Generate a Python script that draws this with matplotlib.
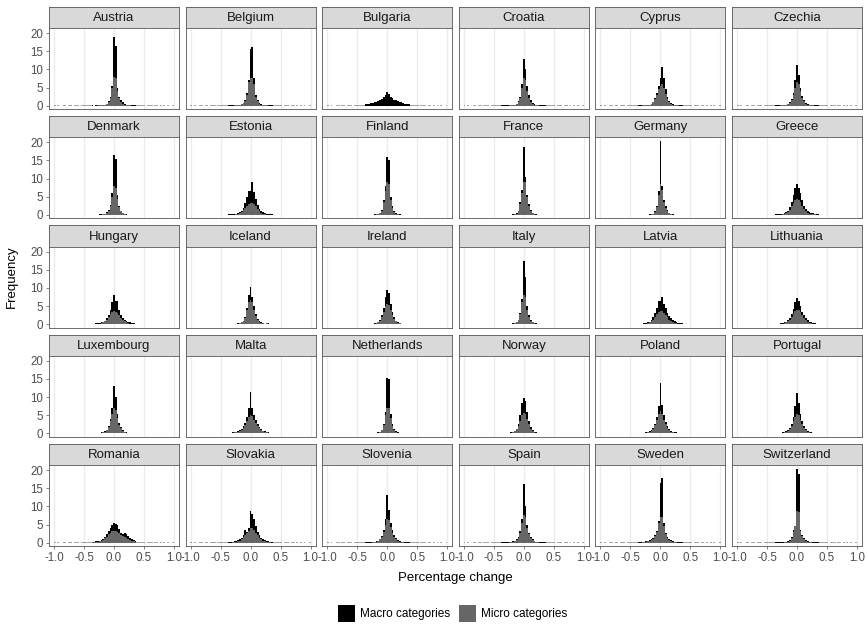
import numpy as np
import matplotlib
matplotlib.use("Agg")
import matplotlib.pyplot as plt
from matplotlib.patches import Rectangle

plt.rcParams['font.family'] = ['Liberation Sans', 'DejaVu Sans']
plt.rcParams['axes.unicode_minus'] = False

# bins of 0.03 centred on -0.36 ... 0.36 (25 values per series)
AUSTRIA_MACRO = [0.1,0.0,0.1,0.1,0.1,0.2,0.2,0.3,0.5,1.2,2.5,5.5,19.0,16.5,5.0,2.5,1.5,1.0,0.5,0.3,0.2,0.1,0.1,0.1,0.1]
AUSTRIA_MICRO = [0,0,0,0.1,0.1,0.1,0.2,0.3,0.5,1.0,2.2,5.0,8.0,7.5,4.0,2.0,1.0,0.6,0.3,0.2,0.1,0.1,0,0,0]
BELGIUM_MACRO = [0.1,0.1,0.1,0.1,0.2,0.2,0.3,0.5,0.8,1.5,3.5,7.0,15.5,16.3,7.5,3.0,1.5,0.8,0.5,0.3,0.2,0.1,0.1,0.1,0.1]
BELGIUM_MICRO = [0,0,0,0.1,0.1,0.2,0.2,0.4,0.7,1.3,3.0,6.5,7.5,7.5,6.0,2.5,1.2,0.6,0.3,0.2,0.1,0.1,0,0,0]
BULGARIA_MACRO = [0.5,0.5,0.6,0.7,0.8,1.0,1.1,1.2,1.6,1.9,2.3,2.9,3.7,3.1,2.5,2.1,1.7,1.5,1.3,1.1,0.9,0.7,0.6,0.5,0.5]
BULGARIA_MICRO = [0,0,0,0,0,0,0,0,0,0,0,0,0,0,0,0,0,0,0,0,0,0,0,0,0]
CROATIA_MACRO = [0.1,0.1,0.1,0.1,0.1,0.2,0.2,0.3,0.6,1.2,2.5,6.0,13.0,10.0,5.5,3.0,1.5,0.8,0.5,0.3,0.2,0.1,0.1,0.1,0.1]
CROATIA_MICRO = [0,0,0,0,0.1,0.1,0.2,0.3,0.5,1.0,2.2,5.0,7.5,7.0,4.0,2.0,1.0,0.5,0.3,0.2,0.1,0,0,0,0]
CYPRUS_MACRO = [0.1,0.1,0.1,0.2,0.2,0.2,0.3,0.5,1.0,2.0,3.5,5.5,7.5,10.8,7.5,4.5,2.5,1.3,0.7,0.5,0.3,0.3,0.2,0.1,0.1]
CYPRUS_MICRO = [0,0,0.1,0.1,0.1,0.2,0.3,0.5,1.0,1.8,3.0,4.5,5.5,6.0,5.0,3.2,1.8,1.0,0.5,0.3,0.2,0.1,0.1,0,0]
CZECHIA_MACRO = [0.1,0.1,0.1,0.1,0.2,0.2,0.3,0.5,0.9,1.8,3.5,7.0,11.2,8.5,5.0,2.8,1.5,0.8,0.5,0.3,0.2,0.1,0.1,0.1,0.1]
CZECHIA_MICRO = [0,0,0,0.1,0.1,0.1,0.2,0.4,0.8,1.5,3.0,5.0,6.5,6.0,4.0,2.2,1.2,0.6,0.3,0.2,0.1,0.1,0,0,0]
DENMARK_MACRO = [0.1,0.1,0.1,0.1,0.2,0.2,0.3,0.4,0.7,1.3,2.8,6.0,16.5,15.5,5.5,2.5,1.2,0.6,0.3,0.2,0.1,0.1,0.1,0.1,0.1]
DENMARK_MICRO = [0,0,0,0,0.1,0.1,0.2,0.3,0.6,1.2,2.5,5.0,8.0,7.5,4.5,2.2,1.0,0.5,0.2,0.1,0.1,0,0,0,0]
ESTONIA_MACRO = [0.3,0.2,0.3,0.3,0.4,0.5,0.8,1.2,2.0,3.2,5.0,6.5,6.5,9.2,6.3,4.5,2.7,1.7,1.0,0.7,0.5,0.4,0.3,0.2,0.2]
ESTONIA_MICRO = [0,0,0.1,0.1,0.2,0.3,0.5,0.9,1.4,2.0,2.5,3.0,3.3,3.3,3.0,2.4,1.6,1.0,0.6,0.4,0.2,0.1,0.1,0,0]
FINLAND_MACRO = [0.1,0.1,0.1,0.1,0.1,0.2,0.2,0.3,0.6,1.5,4.0,8.0,16.0,15.0,5.0,2.5,1.2,0.5,0.3,0.2,0.1,0.1,0.1,0.1,0.1]
FINLAND_MICRO = [0,0,0,0,0.1,0.1,0.2,0.3,0.5,1.2,3.5,6.5,9.0,8.5,4.0,2.0,0.8,0.4,0.2,0.1,0,0,0,0,0]
FRANCE_MACRO = [0.1,0.1,0.1,0.1,0.1,0.1,0.2,0.3,0.5,1.2,3.5,7.0,18.8,10.5,5.5,3.0,1.3,0.6,0.3,0.2,0.1,0.1,0.1,0.1,0.1]
FRANCE_MICRO = [0,0,0,0,0,0.1,0.1,0.2,0.4,1.0,3.0,6.0,9.0,9.0,5.0,2.5,1.0,0.5,0.3,0.1,0.1,0,0,0,0]
GERMANY_MACRO = [0.1,0.1,0.1,0.1,0.1,0.1,0.2,0.2,0.4,1.0,2.5,6.5,20.3,8.0,4.0,2.5,1.3,0.6,0.3,0.2,0.1,0.1,0.1,0.1,0.1]
GERMANY_MICRO = [0,0,0,0,0,0.1,0.1,0.2,0.3,0.8,2.2,5.5,8.5,7.0,3.5,2.0,1.0,0.5,0.2,0.1,0.1,0,0,0,0]
GREECE_MACRO = [0.2,0.2,0.3,0.3,0.4,0.5,0.8,1.2,2.2,3.6,5.5,7.5,8.6,7.5,6.0,4.0,2.6,1.7,1.0,0.7,0.5,0.6,0.4,0.3,0.2]
GREECE_MICRO = [0,0,0.1,0.1,0.2,0.3,0.5,0.8,1.5,2.5,3.2,4.0,4.5,4.2,3.5,2.5,1.6,1.0,0.6,0.4,0.3,0.3,0.2,0.1,0]
HUNGARY_MACRO = [0.2,0.2,0.3,0.3,0.4,0.5,0.7,1.0,1.6,2.6,4.0,6.0,8.0,6.5,6.3,4.0,2.6,1.8,1.2,0.9,0.7,0.5,0.4,0.3,0.2]
HUNGARY_MICRO = [0,0,0.1,0.1,0.2,0.3,0.5,0.8,1.3,2.0,2.8,3.4,3.6,3.5,3.2,2.5,1.8,1.2,0.8,0.5,0.3,0.2,0.1,0.1,0]
ICELAND_MACRO = [0.1,0.1,0.1,0.1,0.2,0.3,0.4,0.6,1.0,2.0,4.5,8.0,10.2,7.5,5.0,2.8,1.5,0.9,0.5,0.3,0.2,0.4,0.3,0.2,0.1]
ICELAND_MICRO = [0,0,0,0.1,0.1,0.2,0.3,0.5,0.9,1.8,3.8,6.0,6.8,6.0,4.0,2.3,1.2,0.7,0.4,0.3,0.1,0.3,0.1,0,0]
IRELAND_MACRO = [0.1,0.1,0.1,0.1,0.2,0.3,0.4,0.7,1.2,2.5,4.5,7.5,9.4,8.5,5.5,3.5,2.0,1.0,0.6,0.4,0.2,0.1,0.1,0.1,0.1]
IRELAND_MICRO = [0,0,0,0.1,0.1,0.2,0.3,0.6,1.0,2.0,3.5,5.0,5.6,5.2,4.0,2.5,1.4,0.8,0.4,0.3,0.1,0.1,0,0,0]
ITALY_MACRO = [0.1,0.1,0.1,0.1,0.1,0.2,0.3,0.4,0.7,1.3,3.0,7.0,17.5,13.0,5.0,2.5,1.3,0.7,0.4,0.3,0.2,0.1,0.1,0.1,0.1]
ITALY_MICRO = [0,0,0,0,0.1,0.1,0.2,0.3,0.6,1.2,2.8,6.0,8.0,7.5,4.0,2.0,1.0,0.5,0.3,0.1,0.1,0,0,0,0]
LATVIA_MACRO = [0.2,0.2,0.2,0.3,0.4,0.5,0.7,1.1,1.9,3.0,4.5,6.5,6.5,7.5,5.5,4.5,3.2,2.3,1.6,1.1,0.8,0.6,0.4,0.3,0.3]
LATVIA_MICRO = [0,0,0.1,0.1,0.2,0.3,0.5,0.8,1.3,2.0,2.8,3.4,3.6,3.6,3.2,2.6,1.9,1.3,0.9,0.6,0.4,0.3,0.2,0.1,0.1]
LITHUANIA_MACRO = [0.1,0.1,0.2,0.3,0.4,0.5,0.7,1.1,1.8,2.8,4.3,6.0,7.3,6.5,5.0,3.5,2.5,1.7,1.1,0.7,0.5,0.4,0.3,0.2,0.2]
LITHUANIA_MICRO = [0,0,0.1,0.1,0.2,0.3,0.5,0.8,1.3,2.0,2.9,3.6,4.0,3.9,3.3,2.5,1.7,1.1,0.7,0.4,0.3,0.2,0.1,0,0]
LUXEMBOURG_MACRO = [0.1,0.1,0.1,0.1,0.2,0.3,0.4,0.6,1.0,2.0,4.0,7.0,13.2,10.0,5.5,3.0,1.8,1.0,0.5,0.3,0.2,0.1,0.1,0.1,0.1]
LUXEMBOURG_MICRO = [0,0,0,0.1,0.1,0.1,0.3,0.5,0.9,1.8,3.3,5.5,7.0,6.5,4.2,2.4,1.4,0.8,0.4,0.2,0.1,0.1,0,0,0]
MALTA_MACRO = [0.1,0.2,0.3,0.4,0.5,0.7,0.9,1.3,2.0,3.0,4.5,7.0,11.3,7.0,5.0,3.6,2.6,1.8,1.2,0.8,0.6,0.4,0.3,0.2,0.1]
MALTA_MICRO = [0,0.1,0.2,0.3,0.4,0.5,0.7,1.0,1.5,2.3,3.3,4.5,5.2,4.8,3.8,2.8,2.0,1.4,0.9,0.6,0.4,0.3,0.2,0.1,0]
NETHERLANDS_MACRO = [0.1,0.1,0.1,0.1,0.1,0.1,0.2,0.3,0.5,1.0,2.5,6.0,15.2,15.0,5.5,2.5,1.2,0.6,0.3,0.2,0.1,0.1,0.1,0.1,0.1]
NETHERLANDS_MICRO = [0,0,0,0,0,0.1,0.1,0.2,0.4,0.9,2.2,5.0,7.0,7.0,4.2,2.0,0.9,0.4,0.2,0.1,0,0,0,0,0]
NORWAY_MACRO = [0.1,0.1,0.1,0.1,0.2,0.3,0.4,0.7,1.3,2.5,5.0,8.5,9.9,9.0,6.0,3.5,1.8,1.0,0.5,0.3,0.2,0.1,0.1,0.1,0.1]
NORWAY_MICRO = [0,0,0,0.1,0.1,0.2,0.3,0.6,1.1,2.0,3.5,5.0,5.6,5.3,4.0,2.5,1.3,0.7,0.4,0.2,0.1,0.1,0,0,0]
POLAND_MACRO = [0.1,0.1,0.1,0.2,0.3,0.4,0.6,0.9,1.5,2.6,4.5,7.5,13.8,7.8,5.0,3.2,2.0,1.2,0.8,0.5,0.4,0.3,0.2,0.1,0.1]
POLAND_MICRO = [0,0,0.1,0.1,0.2,0.3,0.5,0.8,1.3,2.3,3.8,5.5,6.3,5.5,3.8,2.5,1.5,0.9,0.5,0.3,0.2,0.1,0.1,0,0]
PORTUGAL_MACRO = [0.1,0.1,0.1,0.2,0.3,0.4,0.6,0.9,1.5,2.5,4.5,7.5,11.1,8.5,5.5,3.5,2.0,1.2,0.7,0.4,0.3,0.2,0.1,0.1,0.1]
PORTUGAL_MICRO = [0,0,0.1,0.1,0.2,0.3,0.5,0.8,1.2,2.0,3.3,4.6,5.3,5.0,3.8,2.5,1.5,0.9,0.5,0.3,0.2,0.1,0,0,0]
ROMANIA_MACRO = [0.3,0.3,0.4,0.5,0.6,0.8,1.1,1.6,2.3,3.1,4.1,5.0,5.3,5.2,4.8,3.8,2.7,2.4,2.8,2.4,1.8,1.3,1.0,0.7,0.5]
ROMANIA_MICRO = [0.1,0.2,0.3,0.3,0.4,0.6,0.8,1.2,1.7,2.3,2.8,3.1,3.2,3.2,3.0,2.6,2.1,1.8,1.6,1.3,1.0,0.7,0.5,0.4,0.3]
SLOVAKIA_MACRO = [0.2,0.2,0.3,0.4,0.5,0.7,1.0,1.4,2.2,3.5,3.0,4.0,8.7,8.0,6.5,4.5,3.0,2.1,1.4,1.0,0.7,0.5,0.4,0.3,0.2]
SLOVAKIA_MICRO = [0,0,0.1,0.1,0.3,0.4,0.6,1.0,1.5,2.2,2.7,3.2,4.0,4.0,3.5,2.7,2.0,1.4,0.9,0.6,0.4,0.3,0.2,0.1,0]
SLOVENIA_MACRO = [0.1,0.1,0.1,0.1,0.2,0.3,0.4,0.6,1.0,1.8,3.5,6.5,13.2,9.0,5.5,3.5,2.0,1.2,0.7,0.4,0.3,0.2,0.1,0.1,0.1]
SLOVENIA_MICRO = [0,0,0,0,0.1,0.1,0.3,0.5,0.9,1.6,3.0,5.0,6.5,6.2,4.2,2.6,1.5,0.9,0.5,0.3,0.2,0.1,0,0,0]
SPAIN_MACRO = [0.1,0.1,0.1,0.1,0.2,0.3,0.4,0.5,0.9,1.6,3.2,6.5,16.1,10.0,5.0,2.8,1.6,0.9,0.5,0.3,0.2,0.1,0.1,0.1,0.1]
SPAIN_MICRO = [0,0,0,0,0.1,0.1,0.3,0.4,0.8,1.4,2.8,5.5,7.5,7.0,4.0,2.3,1.3,0.7,0.4,0.2,0.1,0,0,0,0]
SWEDEN_MACRO = [0.1,0.1,0.2,0.3,0.4,0.5,0.7,0.9,1.3,2.0,3.2,6.0,16.5,17.8,5.5,2.8,1.5,1.0,0.7,0.5,0.3,0.2,0.1,0.1,0.1]
SWEDEN_MICRO = [0,0,0.1,0.1,0.3,0.4,0.6,0.8,1.1,1.8,3.0,5.5,7.2,7.2,4.5,2.4,1.3,0.8,0.5,0.3,0.2,0.1,0,0,0]
SWITZERLAND_MACRO = [0.1,0.1,0.1,0.1,0.1,0.2,0.3,0.5,0.8,1.5,3.5,4.5,20.2,19.0,3.5,2.0,1.2,0.7,0.4,0.3,0.2,0.1,0.1,0.1,0.1]
SWITZERLAND_MICRO = [0,0,0,0,0,0.1,0.1,0.3,0.6,1.2,3.0,4.5,8.8,8.5,3.2,1.8,1.0,0.6,0.3,0.2,0.1,0,0,0,0]

# sparse outer tails (bins beyond +-0.375), shared, barely visible
TAIL_LEFT = [0.1,0,0.1,0,0,0.1,0.1,0,0.1,0.1,0,0.1,0.1,0.1,0,0.1,0.1,0.1,0.1,0.1,0.1]
TAIL_RIGHT = [0.1,0.1,0.1,0.1,0.1,0,0.1,0.1,0.1,0,0.1,0.1,0,0.1,0,0.1,0,0.1,0,0,0.1]

COUNTRIES = ["Austria", "Belgium", "Bulgaria", "Croatia", "Cyprus", "Czechia",
             "Denmark", "Estonia", "Finland", "France", "Germany", "Greece",
             "Hungary", "Iceland", "Ireland", "Italy", "Latvia", "Lithuania",
             "Luxembourg", "Malta", "Netherlands", "Norway", "Poland", "Portugal",
             "Romania", "Slovakia", "Slovenia", "Spain", "Sweden", "Switzerland"]
MACRO = [AUSTRIA_MACRO, BELGIUM_MACRO, BULGARIA_MACRO, CROATIA_MACRO, CYPRUS_MACRO, CZECHIA_MACRO,
         DENMARK_MACRO, ESTONIA_MACRO, FINLAND_MACRO, FRANCE_MACRO, GERMANY_MACRO, GREECE_MACRO,
         HUNGARY_MACRO, ICELAND_MACRO, IRELAND_MACRO, ITALY_MACRO, LATVIA_MACRO, LITHUANIA_MACRO,
         LUXEMBOURG_MACRO, MALTA_MACRO, NETHERLANDS_MACRO, NORWAY_MACRO, POLAND_MACRO, PORTUGAL_MACRO,
         ROMANIA_MACRO, SLOVAKIA_MACRO, SLOVENIA_MACRO, SPAIN_MACRO, SWEDEN_MACRO, SWITZERLAND_MACRO]
MICRO = [AUSTRIA_MICRO, BELGIUM_MICRO, BULGARIA_MICRO, CROATIA_MICRO, CYPRUS_MICRO, CZECHIA_MICRO,
         DENMARK_MICRO, ESTONIA_MICRO, FINLAND_MICRO, FRANCE_MICRO, GERMANY_MICRO, GREECE_MICRO,
         HUNGARY_MICRO, ICELAND_MICRO, IRELAND_MICRO, ITALY_MICRO, LATVIA_MICRO, LITHUANIA_MICRO,
         LUXEMBOURG_MICRO, MALTA_MICRO, NETHERLANDS_MICRO, NORWAY_MICRO, POLAND_MICRO, PORTUGAL_MICRO,
         ROMANIA_MICRO, SLOVAKIA_MICRO, SLOVENIA_MICRO, SPAIN_MICRO, SWEDEN_MICRO, SWITZERLAND_MICRO]

X_TICKS = [-1.0, -0.5, 0.0, 0.5, 1.0]
X_TICKLABELS = ["-1.0", "-0.5", "0.0", "0.5", "1.0"]
Y_TICKS = [0, 5, 10, 15, 20]

MACRO_COL = "black"
MICRO_COL = "#666666"
BORDER = "#555555"

W, H = 868, 626
fig = plt.figure(figsize=(W / 100, H / 100), dpi=100)


def px_axes(left, top, w, h):
    return fig.add_axes([left / W, 1 - (top + h) / H, w / W, h / H])


edges = np.linspace(-1.005, 1.005, 68)
left_edges = edges[:22]
right_edges = edges[-22:]
mid_edges = edges[21:47]

col_left, col_pitch, panel_w = 49, 136.6, 130
row_top, row_pitch, strip_h, panel_h = 7, 109.25, 21, 81

for k, name in enumerate(COUNTRIES):
    r, c = divmod(k, 6)
    left = col_left + c * col_pitch
    top = row_top + r * row_pitch

    # strip
    sax = px_axes(left, top, panel_w, strip_h)
    sax.set_facecolor("#D9D9D9")
    sax.set_xticks([])
    sax.set_yticks([])
    for s in sax.spines.values():
        s.set_color(BORDER)
        s.set_linewidth(0.6)
    sax.text(0.5, 0.47, name, ha="center", va="center", fontsize=9.5,
             color="#1A1A1A", transform=sax.transAxes)

    # panel
    ax = px_axes(left, top + strip_h, panel_w, panel_h)
    ax.set_xlim(-1.085, 1.085)
    ax.set_ylim(-0.9, 21.4)
    for xv in X_TICKS:
        ax.axvline(xv, color="#EBEBEB", lw=0.9, zorder=0)
    # faint outlying tails
    ax.stairs(TAIL_LEFT, left_edges, fill=True, color=MACRO_COL, alpha=0.35, lw=0, zorder=2)
    ax.stairs(TAIL_RIGHT, right_edges, fill=True, color=MACRO_COL, alpha=0.35, lw=0, zorder=2)
    ax.stairs(MACRO[k], mid_edges, fill=True, color=MACRO_COL, lw=0, zorder=2)
    ax.stairs(MICRO[k], mid_edges, fill=True, color=MICRO_COL, lw=0, zorder=3)
    for s in ax.spines.values():
        s.set_color(BORDER)
        s.set_linewidth(0.6)
    ax.set_xticks(X_TICKS)
    ax.set_yticks(Y_TICKS)
    ax.tick_params(length=2.5, width=0.5, color=BORDER, labelsize=8.3,
                   labelcolor="#4D4D4D", pad=1.5)
    if r == 4:
        ax.set_xticklabels(X_TICKLABELS)
    else:
        ax.tick_params(axis="x", length=0, labelbottom=False)
    if c != 0:
        ax.tick_params(axis="y", length=0, labelleft=False)

fig.text(12 / W, 1 - 277 / H, "Frequency", rotation=90, ha="center", va="center",
         fontsize=9.5, color="black")
fig.text(455 / W, 1 - 578 / H, "Percentage change", ha="center", va="center",
         fontsize=9.5, color="black")

# legend
for x0, col, label in [(338, MACRO_COL, "Macro categories"), (459, MICRO_COL, "Micro categories")]:
    fig.add_artist(Rectangle((x0 / W, 1 - 622 / H), 17 / W, 17 / H,
                             transform=fig.transFigure, facecolor=col, edgecolor="none"))
    fig.text((x0 + 22) / W, 1 - 614 / H, label, ha="left", va="center",
             fontsize=8.5, color="black")

fig.savefig("out.png", dpi=100)
